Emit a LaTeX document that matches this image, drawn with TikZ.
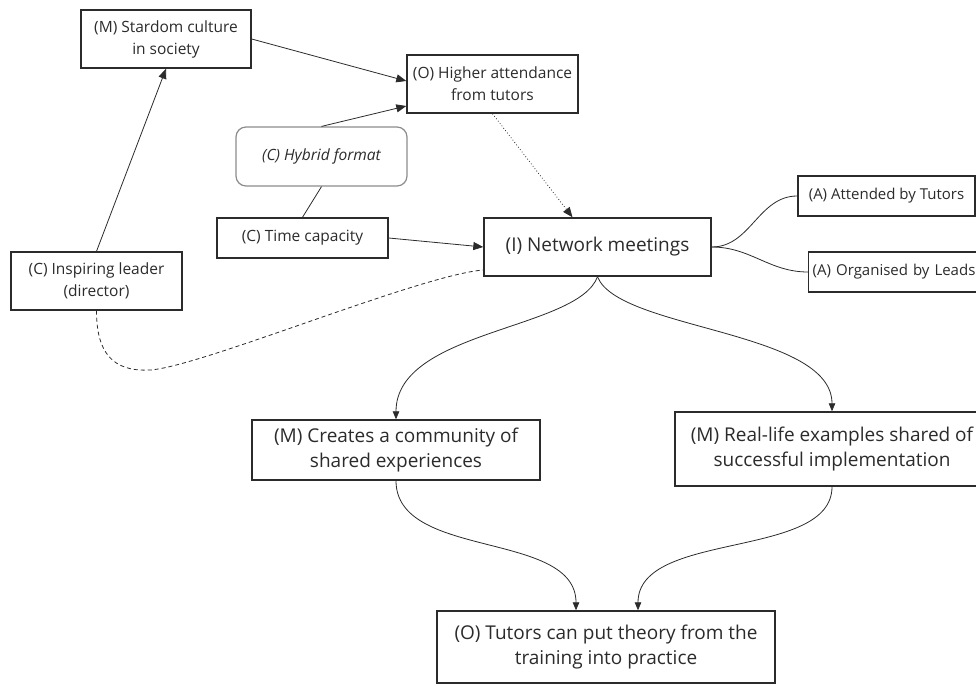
\documentclass[tikz,border=0pt]{standalone}
\usepackage{fontspec}
\setmainfont{Open Sans}
\usetikzlibrary{arrows.meta,calc}
\definecolor{ink}{HTML}{2B2B2B}
\definecolor{soft}{HTML}{8C8C8C}
\begin{document}
\begin{tikzpicture}[x=1pt,y=-1pt,
  box/.style={draw=ink,line width=1.4pt,rectangle,inner sep=0pt,align=center,text=ink,
    font=\fontsize{15.5}{22}\selectfont},
  bigbox/.style={box,font=\fontsize{19}{25}\selectfont},
  softbox/.style={draw=soft,line width=1.2pt,rounded corners=10pt,inner sep=0pt,align=center,
    text=ink,font=\fontsize{15.5}{22}\selectfont\itshape},
  link/.style={draw=ink,line width=0.8pt},
  arr/.style={link,-{Triangle[length=10pt,width=8pt]}},
  smallarr/.style={link,-{Triangle[length=8pt,width=6.5pt]}},
  dottedlink/.style={arr,dash pattern=on 0.8pt off 2.2pt},
  dashedlink/.style={link,dash pattern=on 4pt off 3pt},
]
\useasboundingbox (0,0) rectangle (976,685);

% boxes
\node[box,minimum width=170pt,minimum height=58pt] (stardom) at (166,39) {(M) Stardom culture\\in society};
\node[box,minimum width=171pt,minimum height=58pt] (higher) at (492.5,84) {(O) Higher attendance\\from tutors};
\node[softbox,minimum width=171pt,minimum height=59pt] (hybrid) at (321.5,156.5) {(C) Hybrid format};
\node[box,minimum width=171pt,minimum height=40pt] (time) at (302.5,238) {(C) Time capacity};
\node[bigbox,minimum width=227pt,minimum height=58pt] (network) at (597.5,247) {(I) Network meetings};
\node[box,minimum width=177pt,minimum height=40pt,font=\fontsize{15}{22}\selectfont] (attended) at (886.5,196) {(A) Attended by Tutors};
\node[box,anchor=west,text width=174pt,inner xsep=4pt,align=left,minimum height=40pt,font=\fontsize{15}{22}\selectfont] (organised) at (808,272) {(A) Organised by Leads};
\node[box,minimum width=171pt,minimum height=58pt] (leader) at (96.5,281) {(C) Inspiring leader\\(director)};
\node[bigbox,minimum width=288pt,minimum height=60pt] (creates) at (396,450) {(M) Creates a community of\\shared experiences};
\node[bigbox,minimum width=314pt,minimum height=74pt] (reallife) at (832,449) {(M) Real-life examples shared of\\successful implementation};
\node[bigbox,minimum width=338pt,minimum height=72pt] (tutors) at (606,647) {(O) Tutors can put theory from the\\training into practice};

% straight links
\draw[arr] (leader.north) -- (stardom.south);
\draw[arr] (stardom.east) -- ([yshift=3pt]higher.west);
\draw[arr] (hybrid.north) -- ([yshift=-22pt]higher.west);
\draw[link] (hybrid.south) -- (time.north);
\draw[arr] (time.east) -- (network.west);
\draw[dottedlink] (higher.south) -- ([xshift=-25pt]network.north);

% dashed link from the leader, dipping below before rising to the meetings
\coordinate (dip) at (150,370);
\draw[dashedlink] (leader.south) .. controls (96.5,352) and (112,372) .. (dip)
  .. controls (200,367) and (420,275) .. ([yshift=-23pt]network.west);

% branches to the attributes
\draw[link] (network.east) to[out=0,in=180] (attended.west);
\draw[link] (network.east) to[out=0,in=180] (organised.west);

% mechanisms
\draw[smallarr] (network.south) .. controls (578,330) and (396,330) .. (creates.north);
\draw[smallarr] (network.south) .. controls (618,330) and (832,330) .. (reallife.north);

% outcome
\draw[smallarr] (creates.south) .. controls (396,560) and (576,530) .. ([xshift=-30pt]tutors.north);
\draw[smallarr] (reallife.south) .. controls (832,560) and (638,530) .. ([xshift=32pt]tutors.north);
\end{tikzpicture}
\end{document}
